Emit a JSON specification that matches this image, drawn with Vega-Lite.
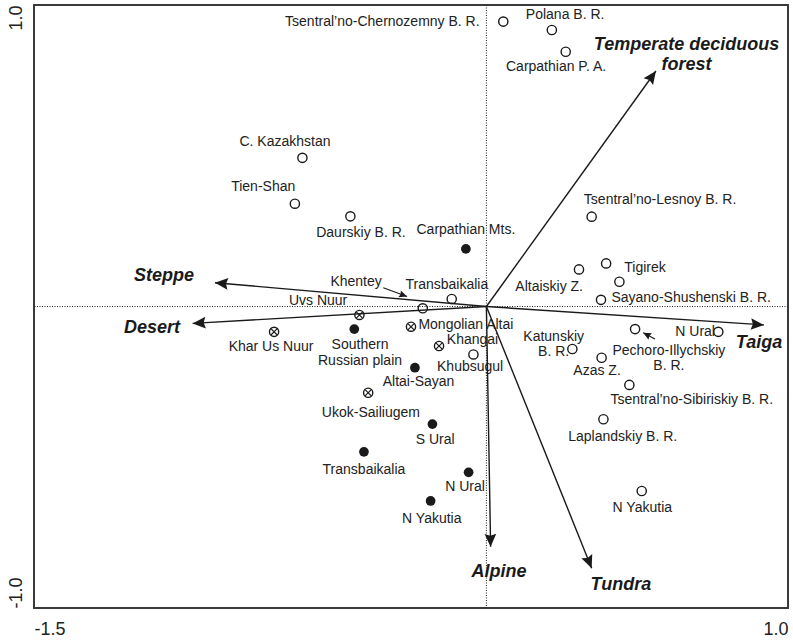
{
  "$schema": "https://vega.github.io/schema/vega-lite/v6.json",
  "width": 754,
  "height": 603,
  "autosize": "none",
  "padding": {"left": 34, "top": 5, "right": 5, "bottom": 34},
  "background": "white",
  "config": {
    "view": {"stroke": "#3a3a3a", "strokeWidth": 2},
    "font": "Liberation Sans"
  },
  "datasets": {
    "origin": [{"x": 0, "y": 0}],
    "sites": [
      {"site": "Tsentral’no-Chernozemny B. R.", "type": "open", "x": 0.056, "y": 0.945},
      {"site": "Polana B. R.", "type": "open", "x": 0.217, "y": 0.917},
      {"site": "Carpathian P. A.", "type": "open", "x": 0.263, "y": 0.845},
      {"site": "C. Kazakhstan", "type": "open", "x": -0.610, "y": 0.493},
      {"site": "Tien-Shan", "type": "open", "x": -0.635, "y": 0.341},
      {"site": "Daurskiy B. R.", "type": "open", "x": -0.451, "y": 0.299},
      {"site": "Tsentral’no-Lesnoy B. R.", "type": "open", "x": 0.349, "y": 0.298},
      {"site": "Altaiskiy Z.", "type": "open", "x": 0.307, "y": 0.123},
      {"site": "Tigirek", "type": "open", "x": 0.397, "y": 0.143},
      {"site": "", "type": "open", "x": 0.441, "y": 0.082},
      {"site": "Sayano-Shushenski B. R.", "type": "open", "x": 0.380, "y": 0.022},
      {"site": "Transbaikalia", "type": "open", "x": -0.115, "y": 0.025},
      {"site": "Khentey", "type": "open", "x": -0.211, "y": -0.006},
      {"site": "Khubsugul", "type": "open", "x": -0.043, "y": -0.159},
      {"site": "Katunskiy B. R.", "type": "open", "x": 0.285, "y": -0.141},
      {"site": "Azas Z.", "type": "open", "x": 0.382, "y": -0.170},
      {"site": "Pechoro-Illychskiy B. R.", "type": "open", "x": 0.493, "y": -0.075},
      {"site": "N Ural", "type": "open", "x": 0.769, "y": -0.084},
      {"site": "Tsentral’no-Sibiriskiy B. R.", "type": "open", "x": 0.474, "y": -0.260},
      {"site": "Laplandskiy B. R.", "type": "open", "x": 0.388, "y": -0.374},
      {"site": "N Yakutia", "type": "open", "x": 0.515, "y": -0.612},
      {"site": "Carpathian Mts.", "type": "filled", "x": -0.068, "y": 0.191},
      {"site": "Southern Russian plain", "type": "filled", "x": -0.438, "y": -0.075},
      {"site": "Altai-Sayan", "type": "filled", "x": -0.237, "y": -0.203},
      {"site": "S Ural", "type": "filled", "x": -0.179, "y": -0.390},
      {"site": "Transbaikalia", "type": "filled", "x": -0.406, "y": -0.482},
      {"site": "N Ural", "type": "filled", "x": -0.059, "y": -0.550},
      {"site": "N Yakutia", "type": "filled", "x": -0.185, "y": -0.645},
      {"site": "Uvs Nuur", "type": "crossed", "x": -0.421, "y": -0.028},
      {"site": "Khar Us Nuur", "type": "crossed", "x": -0.704, "y": -0.084},
      {"site": "Mongolian Altai", "type": "crossed", "x": -0.250, "y": -0.067},
      {"site": "Khangai", "type": "crossed", "x": -0.157, "y": -0.131},
      {"site": "Ukok-Sailiugem", "type": "crossed", "x": -0.392, "y": -0.286}
    ],
    "labels": [
      {"text": "Tsentral’no-Chernozemny B. R.", "x": -0.345, "y": 0.943},
      {"text": "Polana B. R.", "x": 0.261, "y": 0.967},
      {"text": "Carpathian P. A.", "x": 0.231, "y": 0.795},
      {"text": "C. Kazakhstan", "x": -0.668, "y": 0.546},
      {"text": "Tien-Shan", "x": -0.740, "y": 0.397},
      {"text": "Daurskiy B. R.", "x": -0.416, "y": 0.244},
      {"text": "Tsentral’no-Lesnoy B. R.", "x": 0.576, "y": 0.353},
      {"text": "Carpathian Mts.", "x": -0.068, "y": 0.254},
      {"text": "Tigirek", "x": 0.526, "y": 0.127},
      {"text": "Altaiskiy Z.", "x": 0.208, "y": 0.066},
      {"text": "Sayano-Shushenski B. R.", "x": 0.679, "y": 0.029},
      {"text": "Transbaikalia", "x": -0.131, "y": 0.071},
      {"text": "Khentey", "x": -0.432, "y": 0.082},
      {"text": "Uvs Nuur", "x": -0.558, "y": 0.019},
      {"text": "Khar Us Nuur", "x": -0.714, "y": -0.135},
      {"text": "Southern\nRussian plain", "x": -0.419, "y": -0.128},
      {"text": "Mongolian Altai", "x": -0.068, "y": -0.063},
      {"text": "Khangai", "x": -0.046, "y": -0.111},
      {"text": "Khubsugul", "x": -0.054, "y": -0.202},
      {"text": "Altai-Sayan", "x": -0.225, "y": -0.251},
      {"text": "Ukok-Sailiugem", "x": -0.383, "y": -0.352},
      {"text": "S Ural", "x": -0.170, "y": -0.443},
      {"text": "Transbaikalia", "x": -0.406, "y": -0.542},
      {"text": "N Ural", "x": -0.071, "y": -0.600},
      {"text": "N Yakutia", "x": -0.181, "y": -0.705},
      {"text": "Katunskiy\nB. R.", "x": 0.223, "y": -0.100},
      {"text": "Azas Z.", "x": 0.367, "y": -0.213},
      {"text": "Pechoro-Illychskiy\nB. R.", "x": 0.605, "y": -0.147},
      {"text": "N Ural", "x": 0.692, "y": -0.084},
      {"text": "Tsentral’no-Sibiriskiy B. R.", "x": 0.681, "y": -0.310},
      {"text": "Laplandskiy B. R.", "x": 0.452, "y": -0.432},
      {"text": "N Yakutia", "x": 0.517, "y": -0.667}
    ],
    "vectors": [
      {"name": "Steppe", "x0": 0, "y0": 0, "x": -0.900, "y": 0.079, "lx": -1.069, "ly": 0.101},
      {"name": "Desert", "x0": 0, "y0": 0, "x": -0.974, "y": -0.056, "lx": -1.109, "ly": -0.071},
      {"name": "Taiga", "x0": 0, "y0": 0, "x": 0.920, "y": -0.061, "lx": 0.904, "ly": -0.121},
      {"name": "Temperate deciduous\nforest", "x0": 0, "y0": 0, "x": 0.562, "y": 0.781, "lx": 0.6635, "ly": 0.867},
      {"name": "Alpine", "x0": 0, "y0": 0, "x": 0.014, "y": -0.797, "lx": 0.042, "ly": -0.880},
      {"name": "Tundra", "x0": 0, "y0": 0, "x": 0.349, "y": -0.868, "lx": 0.446, "ly": -0.924}
    ],
    "pointers": [
      {"name": "Khentey", "x0": -0.342, "y0": 0.062, "x": -0.263, "y": 0.033},
      {"name": "Pechoro-Illychskiy B. R.", "x0": 0.559, "y0": -0.108, "x": 0.520, "y": -0.087}
    ]
  },
  "layer": [
    {
      "data": {"name": "origin"},
      "mark": {"type": "rule", "color": "#222", "strokeWidth": 1, "strokeDash": [1, 1.5]},
      "encoding": {
        "x": {"field": "x", "type": "quantitative",
          "scale": {"domain": [-1.5, 1.0], "nice": false, "zero": false},
          "axis": {"values": [-1.5, 1.0], "title": null, "ticks": false, "domain": false, "grid": false,
            "labelFlush": true, "labelFontSize": 18, "labelColor": "#222", "labelPadding": 12,
            "labelExpr": "datum.value < 0 ? '-' + format(-datum.value, '.1f') : format(datum.value, '.1f')"}}
      }
    },
    {
      "data": {"name": "origin"},
      "mark": {"type": "rule", "color": "#222", "strokeWidth": 1, "strokeDash": [1, 1.5]},
      "encoding": {
        "y": {"field": "y", "type": "quantitative",
          "scale": {"domain": [-1.0, 1.0], "nice": false, "zero": false},
          "axis": {"values": [-1.0, 1.0], "title": null, "ticks": false, "domain": false, "grid": false,
            "labelAngle": 270, "labelFontSize": 18, "labelColor": "#222", "labelPadding": 13,
            "labelBaseline": "alphabetic",
            "labelAlign": {"condition": {"test": "datum.value > 0", "value": "right"}, "value": "left"},
            "labelExpr": "datum.value < 0 ? '-' + format(-datum.value, '.1f') : format(datum.value, '.1f')"}}
      }
    },
    {
      "data": {"name": "vectors"},
      "mark": {"type": "rule", "color": "#1a1a1a", "strokeWidth": 1.4},
      "encoding": {
        "x": {"field": "x0", "type": "quantitative", "scale": {"domain": [-1.5, 1.0], "nice": false, "zero": false}},
        "y": {"field": "y0", "type": "quantitative", "scale": {"domain": [-1.0, 1.0], "nice": false, "zero": false}},
        "x2": {"field": "x"},
        "y2": {"field": "y"}
      }
    },
    {
      "data": {"name": "vectors"},
      "transform": [{"calculate": "atan2(datum.x, datum.y) * 180 / PI", "as": "ang"}],
      "mark": {"type": "point", "shape": "M0,0L-0.9,2L0,1.7L0.9,2Z", "filled": true, "color": "#1a1a1a", "opacity": 1, "size": 169},
      "encoding": {
        "x": {"field": "x", "type": "quantitative", "scale": {"domain": [-1.5, 1.0], "nice": false, "zero": false}},
        "y": {"field": "y", "type": "quantitative", "scale": {"domain": [-1.0, 1.0], "nice": false, "zero": false}},
        "angle": {"field": "ang", "type": "quantitative", "scale": null}
      }
    },
    {
      "data": {"name": "pointers"},
      "mark": {"type": "rule", "color": "#1a1a1a", "strokeWidth": 1.2},
      "encoding": {
        "x": {"field": "x0", "type": "quantitative", "scale": {"domain": [-1.5, 1.0], "nice": false, "zero": false}},
        "y": {"field": "y0", "type": "quantitative", "scale": {"domain": [-1.0, 1.0], "nice": false, "zero": false}},
        "x2": {"field": "x"},
        "y2": {"field": "y"}
      }
    },
    {
      "data": {"name": "pointers"},
      "transform": [{"calculate": "atan2(datum.x - datum.x0, datum.y - datum.y0) * 180 / PI", "as": "ang"}],
      "mark": {"type": "point", "shape": "M0,0L-0.9,2L0,1.7L0.9,2Z", "filled": true, "color": "#1a1a1a", "opacity": 1, "size": 64},
      "encoding": {
        "x": {"field": "x", "type": "quantitative", "scale": {"domain": [-1.5, 1.0], "nice": false, "zero": false}},
        "y": {"field": "y", "type": "quantitative", "scale": {"domain": [-1.0, 1.0], "nice": false, "zero": false}},
        "angle": {"field": "ang", "type": "quantitative", "scale": null}
      }
    },
    {
      "data": {"name": "sites"},
      "transform": [{"filter": "datum.type === 'open' || datum.type === 'crossed'"}],
      "mark": {"type": "point", "shape": "circle", "filled": false, "stroke": "#1a1a1a", "strokeWidth": 1.4, "opacity": 1, "size": 85},
      "encoding": {
        "x": {"field": "x", "type": "quantitative", "scale": {"domain": [-1.5, 1.0], "nice": false, "zero": false}},
        "y": {"field": "y", "type": "quantitative", "scale": {"domain": [-1.0, 1.0], "nice": false, "zero": false}}
      }
    },
    {
      "data": {"name": "sites"},
      "transform": [{"filter": "datum.type === 'crossed'"}],
      "mark": {"type": "point", "shape": "M-0.68,-0.68L0.68,0.68M-0.68,0.68L0.68,-0.68", "filled": false, "stroke": "#1a1a1a", "strokeWidth": 1.2, "opacity": 1, "size": 85},
      "encoding": {
        "x": {"field": "x", "type": "quantitative", "scale": {"domain": [-1.5, 1.0], "nice": false, "zero": false}},
        "y": {"field": "y", "type": "quantitative", "scale": {"domain": [-1.0, 1.0], "nice": false, "zero": false}}
      }
    },
    {
      "data": {"name": "sites"},
      "transform": [{"filter": "datum.type === 'filled'"}],
      "mark": {"type": "point", "shape": "circle", "filled": true, "color": "#1a1a1a", "opacity": 1, "size": 95},
      "encoding": {
        "x": {"field": "x", "type": "quantitative", "scale": {"domain": [-1.5, 1.0], "nice": false, "zero": false}},
        "y": {"field": "y", "type": "quantitative", "scale": {"domain": [-1.0, 1.0], "nice": false, "zero": false}}
      }
    },
    {
      "data": {"name": "labels"},
      "mark": {"type": "text", "font": "Liberation Sans", "fontSize": 14, "color": "#222", "align": "center", "baseline": "middle", "lineBreak": "\n", "lineHeight": 15.5},
      "encoding": {
        "x": {"field": "x", "type": "quantitative", "scale": {"domain": [-1.5, 1.0], "nice": false, "zero": false}},
        "y": {"field": "y", "type": "quantitative", "scale": {"domain": [-1.0, 1.0], "nice": false, "zero": false}},
        "text": {"field": "text"}
      }
    },
    {
      "data": {"name": "vectors"},
      "mark": {"type": "text", "font": "Liberation Sans", "fontSize": 18, "fontWeight": "bold", "fontStyle": "italic", "color": "#1a1a1a", "align": "center", "baseline": "middle", "lineBreak": "\n", "lineHeight": 20},
      "encoding": {
        "x": {"field": "lx", "type": "quantitative", "scale": {"domain": [-1.5, 1.0], "nice": false, "zero": false}},
        "y": {"field": "ly", "type": "quantitative", "scale": {"domain": [-1.0, 1.0], "nice": false, "zero": false}},
        "text": {"field": "name"}
      }
    }
  ]
}
